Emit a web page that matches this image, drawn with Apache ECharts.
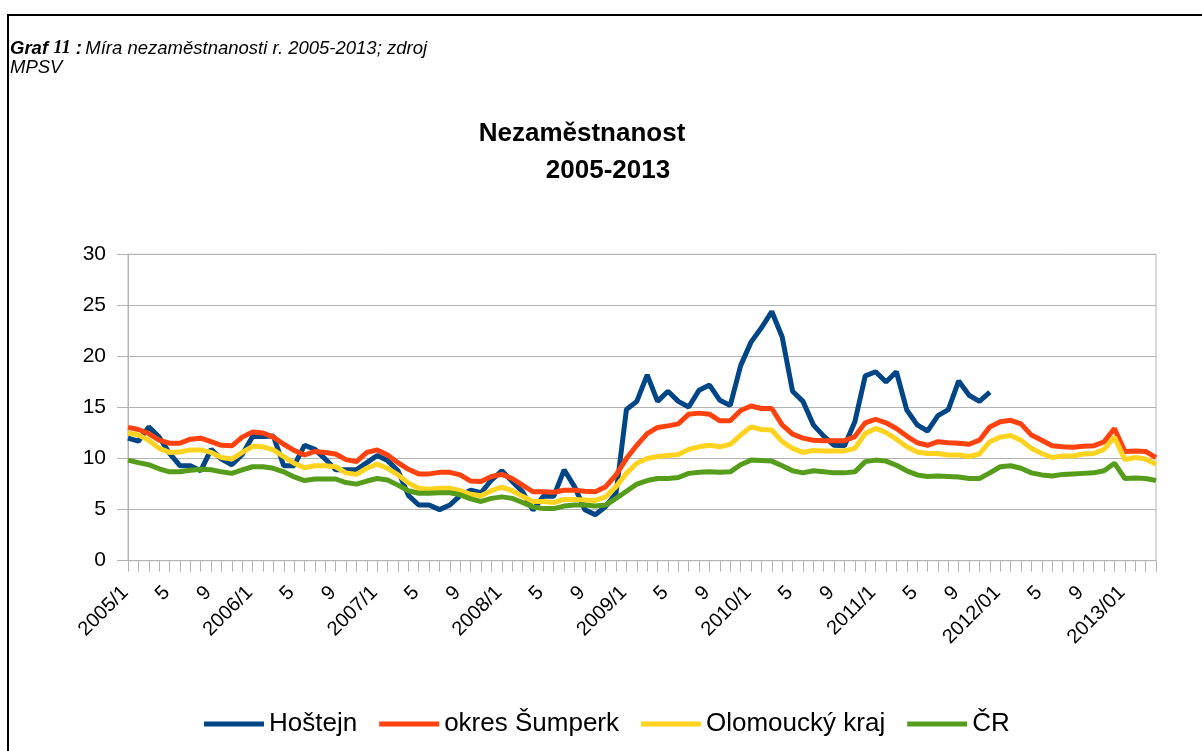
<!DOCTYPE html>
<html>
<head>
<meta charset="utf-8">
<script src="https://cdn.jsdelivr.net/npm/echarts@6/dist/echarts.min.js"></script>
<style>
html,body{margin:0;padding:0;background:#fff;}
#c{width:1202px;height:751px;}
</style>
</head>
<body>
<div id="c"></div>
<script>
const months = [
  "2005/1","2","3","4","5","6","7","8","9","10","11","12",
  "2006/1","2","3","4","5","6","7","8","9","10","11","12",
  "2007/1","2","3","4","5","6","7","8","9","10","11","12",
  "2008/1","2","3","4","5","6","7","8","9","10","11","12",
  "2009/1","2","3","4","5","6","7","8","9","10","11","12",
  "2010/1","2","3","4","5","6","7","8","9","10","11","12",
  "2011/1","2","3","4","5","6","7","8","9","10","11","12",
  "2012/01","2","3","4","5","6","7","8","9","10","11","12",
  "2013/01","2","3","4"
];
const seriesNames = ["Hoštejn", "okres Šumperk", "Olomoucký kraj", "ČR"];
const hostejn = [
  12.0,11.7,13.1,12.1,10.5,9.3,9.3,8.8,10.9,9.95,9.4,10.4,
  12.15,12.15,12.2,9.3,9.3,11.3,10.9,9.95,8.9,8.9,8.9,9.6,
  10.3,9.8,8.8,6.4,5.45,5.45,5.0,5.45,6.4,6.9,6.65,7.9,
  8.8,7.75,6.75,4.95,6.3,6.3,8.9,7.25,5.0,4.5,5.3,6.6,
  14.8,15.6,18.2,15.6,16.6,15.6,15.05,16.7,17.2,15.7,15.2,19.1,
  21.4,22.8,24.4,21.9,16.6,15.6,13.3,12.2,11.3,11.25,13.6,18.1,
  18.5,17.5,18.5,14.75,13.3,12.7,14.2,14.8,17.6,16.2,15.6,16.5
];
const sumperk = [
  13.05,12.85,12.45,11.8,11.5,11.5,11.9,12.0,11.65,11.3,11.25,12.1,
  12.6,12.5,12.1,11.4,10.8,10.35,10.7,10.6,10.45,9.9,9.7,10.6,
  10.85,10.35,9.6,8.95,8.5,8.5,8.65,8.65,8.4,7.8,7.75,8.25,
  8.45,8.05,7.4,6.75,6.75,6.7,6.9,6.9,6.8,6.75,7.25,8.4,
  10.0,11.3,12.45,13.05,13.2,13.4,14.35,14.45,14.35,13.7,13.7,14.7,
  15.15,14.9,14.9,13.3,12.4,12.0,11.8,11.75,11.75,11.75,12.15,13.5,
  13.85,13.5,12.95,12.2,11.55,11.3,11.65,11.55,11.5,11.4,11.8,13.1,
  13.6,13.75,13.4,12.3,11.8,11.25,11.15,11.1,11.2,11.25,11.65,12.95,
  10.7,10.75,10.7,10.1
];
const olomoucky = [
  12.5,12.3,11.8,11.0,10.6,10.65,10.85,10.85,10.6,10.1,9.95,10.6,
  11.2,11.15,10.85,10.2,9.55,9.1,9.3,9.3,9.2,8.6,8.45,9.05,
  9.45,9.05,8.4,7.6,7.1,7.0,7.1,7.1,6.85,6.5,6.35,6.85,
  7.2,6.85,6.3,5.8,5.8,5.7,6.0,6.0,5.95,5.9,6.25,7.25,
  8.55,9.55,10.0,10.2,10.3,10.4,10.9,11.15,11.3,11.15,11.4,12.3,
  13.1,12.85,12.8,11.65,11.0,10.6,10.8,10.75,10.75,10.75,11.0,12.45,
  12.95,12.55,11.9,11.15,10.65,10.5,10.5,10.35,10.35,10.2,10.45,11.65,
  12.1,12.25,11.8,11.0,10.5,10.1,10.25,10.25,10.45,10.5,10.9,12.1,
  9.9,10.1,9.95,9.45
];
const cr = [
  9.85,9.6,9.4,9.0,8.7,8.7,8.85,8.95,8.9,8.7,8.55,8.9,
  9.2,9.2,9.05,8.7,8.2,7.85,8.0,8.0,8.0,7.65,7.5,7.8,
  8.05,7.9,7.4,6.85,6.6,6.6,6.65,6.65,6.45,6.05,5.8,6.1,
  6.25,6.1,5.7,5.25,5.1,5.1,5.35,5.45,5.45,5.35,5.45,6.1,
  6.8,7.5,7.85,8.05,8.05,8.15,8.55,8.65,8.7,8.65,8.7,9.4,
  9.85,9.8,9.75,9.3,8.8,8.6,8.8,8.7,8.6,8.6,8.7,9.7,
  9.85,9.75,9.35,8.8,8.4,8.25,8.3,8.25,8.2,8.05,8.05,8.6,
  9.2,9.3,9.05,8.6,8.4,8.3,8.45,8.5,8.55,8.6,8.8,9.55,
  8.05,8.1,8.05,7.85
];
const yTicks = [0, 5, 10, 15, 20, 25, 30];
const colors = ["#004586", "#ff420e", "#ffd320", "#579d1c"];
const FONT = "'Liberation Sans', Arial, sans-serif";

const chart = echarts.init(document.getElementById('c'), null, {renderer: 'canvas'});
const dataSets = [hostejn, sumperk, olomoucky, cr];

chart.setOption({
  animation: false,
  backgroundColor: '#ffffff',
  color: colors,
  textStyle: {fontFamily: FONT},
  grid: {
    left: 128, right: 46, top: 254.3, bottom: 190.3,
    show: true, borderColor: '#b3b3b3', borderWidth: 1, backgroundColor: 'transparent'
  },
  graphic: [
    {type: 'rect', x: 0, y: 0, shape: {x: 8, y: 15, width: 1230, height: 800},
     style: {fill: 'none', stroke: '#000', lineWidth: 2}, silent: true},
    {type: 'text', x: 10, y: 39, style: {
      text: '{b|Graf }{n|11}{b| :} {i|Míra nezaměstnanosti r. 2005-2013; zdroj}\n{i|MPSV}',
      lineHeight: 19,
      rich: {
        b: {fontFamily: FONT, fontStyle: 'italic', fontWeight: 'bold', fontSize: 18.5, fill: '#000', lineHeight: 19},
        n: {fontFamily: "'Liberation Serif', 'Times New Roman', serif", fontStyle: 'italic', fontWeight: 'bold', fontSize: 18.5, fill: '#000', lineHeight: 19},
        i: {fontFamily: FONT, fontStyle: 'italic', fontSize: 18.5, fill: '#000', lineHeight: 19}
      }
    }},
    {type: 'text', x: 582, y: 134, style: {
      text: 'Nezaměstnanost', font: "bold 26px 'Liberation Sans', Arial, sans-serif",
      fill: '#000', align: 'center', verticalAlign: 'middle'}},
    {type: 'text', x: 608, y: 171, style: {
      text: '2005-2013', font: "bold 26px 'Liberation Sans', Arial, sans-serif",
      fill: '#000', align: 'center', verticalAlign: 'middle'}}
  ],
  legend: {
    left: 199, top: 706,
    itemWidth: 60, itemHeight: 5, itemGap: 22,
    icon: 'rect',
    textStyle: {fontFamily: FONT, fontSize: 26, color: '#000'},
    data: seriesNames
  },
  xAxis: {
    type: 'category',
    data: months,
    boundaryGap: false,
    axisLine: {show: true, lineStyle: {color: '#b3b3b3', width: 1}},
    axisTick: {show: true, interval: 0, length: 11, lineStyle: {color: '#b3b3b3'}},
    axisLabel: {interval: 3, rotate: 45, fontSize: 20, color: '#000', fontFamily: FONT, margin: 26, padding: [0, 4, 0, 0]},
    splitLine: {show: false}
  },
  yAxis: {
    type: 'value',
    min: yTicks[0], max: yTicks[yTicks.length - 1], interval: 5,
    axisLine: {show: true, lineStyle: {color: '#b3b3b3', width: 1}},
    axisTick: {show: true, length: 11, lineStyle: {color: '#b3b3b3'}},
    axisLabel: {fontSize: 21, color: '#000', fontFamily: FONT, margin: 22},
    splitLine: {show: true, lineStyle: {color: '#b3b3b3', width: 1}}
  },
  series: seriesNames.map((name, k) => ({
    name: name,
    type: 'line',
    data: dataSets[k],
    showSymbol: false,
    symbol: 'none',
    lineStyle: {width: 5, color: colors[k]},
    itemStyle: {color: colors[k]},
    emphasis: {disabled: true}
  }))
});
</script>
</body>
</html>
